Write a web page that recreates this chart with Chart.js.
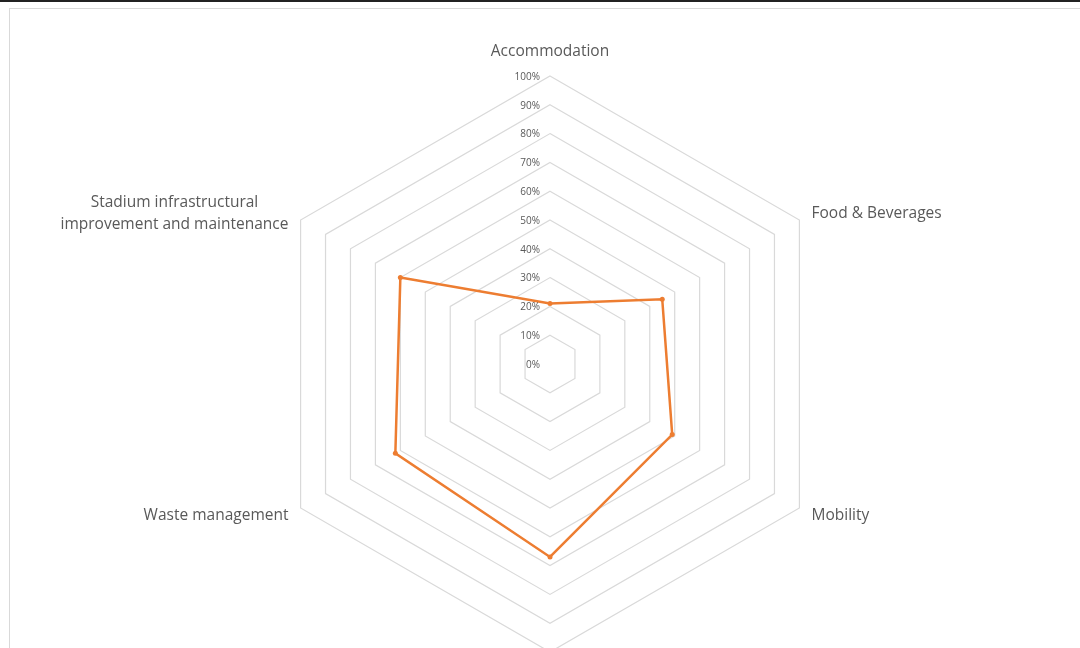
<!DOCTYPE html>
<html>
<head>
<meta charset="utf-8">
<script src="https://cdn.jsdelivr.net/npm/chart.js@4"></script>
<style>
    body { margin: 0; background: #fff; overflow: hidden; }
    #topbar { position: absolute; left: 0; top: 0; width: 1080px; height: 2px; background: #222; z-index: 3; }
    #frame { position: absolute; left: 9px; top: 8px; width: 1200px; height: 800px; border-left: 1px solid #d9d9d9; border-top: 1px solid #d9d9d9; }
    #wrap { position: absolute; left: 0; top: 0; width: 1080px; height: 720px; z-index: 2; }
</style>
</head>
<body>
<div id="topbar"></div>
<div id="frame"></div>
<div id="wrap"><canvas id="radarChart"></canvas></div>
<script>
var categories = [
    'Accommodation',
    'Food & Beverages',
    'Mobility',
    'Energy',
    'Waste management',
    ['Stadium infrastructural', 'improvement and maintenance']
];
var shareValues = [21, 45, 49, 67, 62, 60];
var tickValues = [0, 10, 20, 30, 40, 50, 60, 70, 80, 90, 100];

var labelFont = '15.5px "Open Sans"';
var tickFont = '10px "Open Sans"';
var textColor = '#595959';

// draws the point labels and % ticks the way Excel places them
var excelLabels = {
    id: 'excelLabels',
    afterDraw: function (chart) {
        var scale = chart.scales.r;
        var ctx = chart.ctx;
        ctx.save();
        ctx.fillStyle = textColor;
        ctx.textBaseline = 'middle';

        ctx.font = tickFont;
        ctx.textAlign = 'right';
        tickValues.forEach(function (v) {
            var y = scale.yCenter - scale.getDistanceFromCenterForValue(v);
            ctx.fillText(v + '%', scale.xCenter - 10, y + 1);
        });

        ctx.font = labelFont;
        var lineH = 22;
        categories.forEach(function (label, i) {
            var lines = Array.isArray(label) ? label : [label];
            var p = scale.getPointPosition(i, scale.drawingArea + 14);
            var dx = p.x - scale.xCenter;
            var maxW = 0;
            lines.forEach(function (l) { maxW = Math.max(maxW, ctx.measureText(l).width); });
            var cx, cy;
            if (Math.abs(dx) < 1) {
                cx = p.x;
                cy = p.y < scale.yCenter ? p.y - 10 - (lines.length - 1) * lineH : p.y + 12;
            } else if (dx > 0) {
                cx = p.x + maxW / 2;
                cy = p.y + 1 - (lines.length - 1) * lineH / 2;
            } else {
                cx = p.x - maxW / 2;
                cy = p.y + 1 - (lines.length - 1) * lineH / 2;
            }
            ctx.textAlign = 'center';
            lines.forEach(function (l, k) {
                ctx.fillText(l, cx, cy + k * lineH);
            });
        });
        ctx.restore();
    }
};

var ctxR = document.getElementById('radarChart').getContext('2d');
var myRadarChart = new Chart(ctxR, {
    type: 'radar',
    data: {
        labels: categories,
        datasets: [{
            label: 'Share',
            data: shareValues,
            fill: false,
            borderColor: '#ED7D31',
            backgroundColor: '#ED7D31',
            borderWidth: 2.5,
            pointRadius: 2.5,
            pointBorderWidth: 0,
            pointBackgroundColor: '#ED7D31',
            tension: 0
        }]
    },
    options: {
        responsive: true,
        maintainAspectRatio: false,
        animation: false,
        layout: { padding: { top: 76, bottom: 68, left: 20, right: 0 } },
        plugins: {
            legend: { display: false },
            tooltip: { enabled: false }
        },
        scales: {
            r: {
                min: 0,
                max: 100,
                ticks: { stepSize: 10, display: false },
                grid: { color: '#d9d9d9', lineWidth: 1.2 },
                angleLines: { display: false },
                pointLabels: { display: false }
            }
        }
    },
    plugins: [excelLabels]
});
</script>
</body>
</html>
